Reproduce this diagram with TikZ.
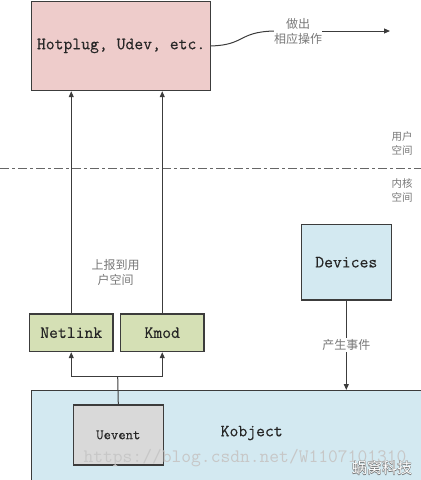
\documentclass[tikz,border=0pt]{standalone}
\usepackage{fontspec}
\usetikzlibrary{arrows.meta}
\setmonofont{Latin Modern Mono}[FakeBold=0.35]
\newfontfamily\monolight{Latin Modern Mono}
\newfontfamily\cjk{Noto Sans CJK SC}
\definecolor{hotfill}{HTML}{EECCCB}
\definecolor{greenfill}{HTML}{D5E0B5}
\definecolor{bluefill}{HTML}{D3E9F1}
\definecolor{grayfill}{HTML}{D9D9D9}
\definecolor{edge}{HTML}{3C3C3C}
\definecolor{lbl}{HTML}{777777}
\newcommand{\outlinedtext}[1]{%
  \makebox[0pt][l]{\hspace*{-0.45pt}\color{black!55}#1}%
  \makebox[0pt][l]{\hspace*{0.45pt}\color{black!55}#1}%
  \makebox[0pt][l]{\raisebox{0.45pt}{\color{black!55}#1}}%
  \makebox[0pt][l]{\raisebox{-0.45pt}{\color{black!55}#1}}%
  {\color{white}#1}}
\tikzset{
  box/.style={draw=edge, line width=1.2pt, anchor=north west, inner sep=0pt,
    font=\ttfamily\fontsize{17.2}{20}\selectfont, text=black!85},
  conn/.style={draw=edge, line width=1pt},
  arr/.style={conn, -{Triangle[length=6pt,width=5pt]}},
  cnlabel/.style={font=\cjk\fontsize{12}{15}\selectfont, text=lbl, align=center, inner sep=0pt},
  sidelabel/.style={font=\cjk\fontsize{10.5}{14.5}\selectfont, text=lbl, align=center, inner sep=0pt},
}
\begin{document}
\begin{tikzpicture}[x=1pt,y=-1pt]
\useasboundingbox (0,0) rectangle (421,480);
% divider
\draw[draw=black!60, line width=1pt, dash pattern=on 9pt off 3pt on 3pt off 3pt] (0,168) -- (421,168);
\node[sidelabel] (user) at (402,143.5) {用户\\空间};
\node[sidelabel] (kern) at (402,190.5) {内核\\空间};
% boxes
\node[box, fill=hotfill, minimum width=179pt, minimum height=89.3pt] (hot) at (31,0.7) {Hotplug, Udev, etc.};
\node[box, fill=bluefill, minimum width=90pt, minimum height=75.3pt] (dev) at (300.7,224) {Devices};
\node[box, fill=greenfill, minimum width=83.3pt, minimum height=37.7pt] (net) at (29,313.3) {Netlink};
\node[box, fill=greenfill, minimum width=83.3pt, minimum height=37.7pt] (kmod) at (120,313.3) {Kmod};
\node[box, fill=bluefill, minimum width=389.8pt, minimum height=89.5pt] (kob) at (30.7,390) {};
\node[font=\ttfamily\fontsize{17.2}{20}\selectfont, text=black!85] (kobt) at (251.7,433) {Kobject};
\node[box, fill=grayfill, minimum width=90pt, minimum height=60pt, font=\ttfamily\fontsize{14.3}{17}\selectfont] (uev) at (72.7,404.3) {Uevent};
% connectors
\draw[arr] (net.north) -- (net.north |- hot.south);
\draw[arr] (kmod.north) -- (kmod.north |- hot.south);
\node[cnlabel] (report) at (115.5,272.5) {上报到用\\户空间};
\coordinate (j) at (117.7,376.7);
\draw[conn] (uev.north) -- (j);
\draw[arr] (j) -| (net.south);
\draw[arr] (j) -| (kmod.south);
\draw[arr] (dev.south) -- (dev.south |- kob.north)
  node[cnlabel, pos=0.5, fill=white, inner sep=1.5pt] (gen) {产生事件};
\node[cnlabel] (act) at (298,31) {做出\\相应操作};
\draw[conn] (hot.east) .. controls (245,45) and (238,32) .. (act.west);
\coordinate (actend) at (390,31);
\draw[arr] (act.east) -- (actend);
% watermark
\node[font=\monolight\fontsize{19}{22}\selectfont, text=black!22, inner sep=0pt] (wm) at (245,458) {https://blog.csdn.net/W1107101310};
\node[font=\cjk\fontsize{15}{17}\selectfont, inner sep=0pt] (wm2) at (382,468) {\outlinedtext{蜗窝科技}};
\end{tikzpicture}
\end{document}
